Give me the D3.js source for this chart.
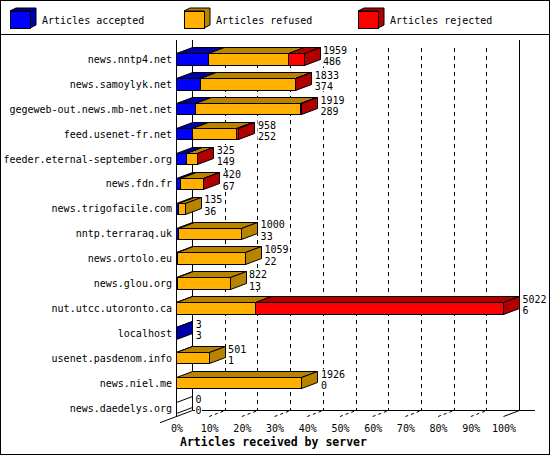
<!DOCTYPE html>
<html>
<head>
<meta charset="utf-8">
<script src="https://cdn.jsdelivr.net/npm/d3@7"></script>
<style>
body { margin: 0; background: #fff; }
</style>
</head>
<body>
<div id="chart"></div>
<script>
var servers = ["news.nntp4.net", "news.samoylyk.net", "gegeweb-out.news.mb-net.net",
    "feed.usenet-fr.net", "feeder.eternal-september.org", "news.fdn.fr",
    "news.trigofacile.com", "nntp.terraraq.uk", "news.ortolo.eu", "news.glou.org",
    "nut.utcc.utoronto.ca", "localhost", "usenet.pasdenom.info", "news.niel.me",
    "news.daedelys.org"];
var accepted = [486, 374, 289, 252, 149, 67, 36, 33, 22, 13, 6, 3, 1, 0, 0];
var refused  = [1231, 1451, 1610, 676, 171, 348, 99, 967, 1037, 809, 1210, 0, 500, 1926, 0];
var rejected = [242, 8, 20, 30, 5, 5, 0, 0, 0, 0, 3806, 0, 0, 0, 0];
var seriesNames = ["Articles accepted", "Articles refused", "Articles rejected"];
var xTicks = [0, 10, 20, 30, 40, 50, 60, 70, 80, 90, 100];
var xTitle = "Articles received by server";

function init(){

    var w = 550;
    var h = 455;
    var dx = 16, dy = 6;
    var fronts = ["#0000ff", "#ffb000", "#ff0000"];
    var darks = ["#0000a8", "#b88400", "#b00000"];
    var mono = "'DejaVu Sans Mono', monospace";
    var r = function(v){ return Math.round(v - 0.5) + 0.5; };

    var totals = servers.map(function(s, i){
        return accepted[i] + refused[i] + rejected[i];
    });
    var maxTotal = d3.max(totals);

    var xScale = d3.scaleLinear().domain([0, maxTotal]).range([176.5, 503.5]);
    var pScale = d3.scaleLinear().domain([0, 100]).range([176.5, 503.5]);
    var yScale = d3.scaleBand().domain(servers).range([47, 420.5])
        .paddingInner(0.54).paddingOuter(0.27);

    var floorY = 416.5;

    var svg = d3.select("#chart")
                .append("svg")
                .attr("width", w)
                .attr("height", h)
                .style("display", "block");

    svg.append("rect")
        .attr("x", 0.5).attr("y", 0.5)
        .attr("width", w - 1).attr("height", h - 1)
        .attr("fill", "#fff").attr("stroke", "#000");

    // legend
    var leg = svg.append("g");
    seriesNames.forEach(function(name, i){
        var lx = 10 + i * 174, ly = 11, bw = 20, bh = 17;
        leg.append("polygon")
            .attr("points", [[lx, ly], [lx + 6, ly - 3], [lx + bw + 6, ly - 3], [lx + bw + 6, ly + bh - 3], [lx + bw, ly + bh], [lx + bw, ly]].join(" "))
            .attr("fill", darks[i]).attr("stroke", "#000");
        leg.append("rect")
            .attr("x", lx + 0.5).attr("y", ly + 0.5)
            .attr("width", bw).attr("height", bh)
            .attr("fill", fronts[i]).attr("stroke", "#000");
        leg.append("text")
            .attr("x", lx + 32).attr("y", 20)
            .attr("dominant-baseline", "central")
            .attr("font-family", mono).attr("font-size", 10)
            .text(name);
    });
    svg.append("line")
        .attr("x1", 0).attr("x2", w)
        .attr("y1", 34.5).attr("y2", 34.5)
        .attr("stroke", "#000");

    // back wall
    var grid = svg.append("g").attr("stroke", "#000");
    grid.selectAll("line.dash")
        .data(xTicks.slice(1, -1))
        .enter()
        .append("line")
        .attr("x1", function(d){ return r(pScale(d) + dx); })
        .attr("x2", function(d){ return r(pScale(d) + dx); })
        .attr("y1", 48).attr("y2", floorY - dy)
        .attr("stroke-dasharray", "4,4");
    grid.selectAll("line.solid")
        .data([0, 100])
        .enter()
        .append("line")
        .attr("x1", function(d){ return r(pScale(d) + dx); })
        .attr("x2", function(d){ return r(pScale(d) + dx); })
        .attr("y1", 40).attr("y2", floorY - dy);
    grid.append("line")
        .attr("x1", r(pScale(0))).attr("x2", r(pScale(0)))
        .attr("y1", 40).attr("y2", floorY);
    // floor
    grid.append("line")
        .attr("x1", r(pScale(0) + dx)).attr("x2", 535)
        .attr("y1", floorY - dy).attr("y2", floorY - dy);
    grid.append("line")
        .attr("x1", 160).attr("y1", floorY - dy + (pScale(0) + dx - 160) * dy / dx)
        .attr("x2", pScale(0) + dx).attr("y2", floorY - dy);
    grid.append("line")
        .attr("x1", pScale(100)).attr("y1", floorY)
        .attr("x2", pScale(100) + dx).attr("y2", floorY - dy);
    grid.selectAll("line.tick")
        .data(xTicks.slice(1, -1))
        .enter()
        .append("line")
        .attr("x1", function(d){ return pScale(d); })
        .attr("x2", function(d){ return pScale(d) + dx; })
        .attr("y1", floorY).attr("y2", floorY - dy)
        .attr("stroke-dasharray", "3,3");

    // bars
    servers.forEach(function(s, i){
        var vals = [accepted[i], refused[i], rejected[i]];
        var y0 = r(yScale(s));
        var y1 = r(yScale(s) + yScale.bandwidth());
        var g = svg.append("g").attr("stroke", "#000");
        var cum = 0, last = -1;
        vals.forEach(function(v, j){
            if (v <= 0) return;
            var x0 = r(xScale(cum)), x1 = r(xScale(cum + v));
            g.append("polygon")
                .attr("points", [[x0, y0], [x0 + dx, y0 - dy], [x1 + dx, y0 - dy], [x1, y0]].join(" "))
                .attr("fill", darks[j]);
            g.append("rect")
                .attr("x", x0).attr("y", y0)
                .attr("width", x1 - x0).attr("height", y1 - y0)
                .attr("fill", fronts[j]);
            cum += v;
            last = j;
        });
        var xe = r(xScale(totals[i]));
        g.append("polygon")
            .attr("points", [[xe, y0], [xe + dx, y0 - dy], [xe + dx, y1 - dy], [xe, y1]].join(" "))
            .attr("fill", last < 0 ? "none" : darks[last]);

        var tx = xScale(totals[i]) + dx + 3;
        var cy = yScale(s) + yScale.bandwidth() / 2;
        var tw = Math.max(String(totals[i]).length, String(accepted[i]).length) * 6 + 1;
        svg.append("rect")
            .attr("x", tx - 0.5).attr("y", cy - 14)
            .attr("width", tw).attr("height", 21)
            .attr("fill", "#fff");
        svg.append("text")
            .attr("x", tx).attr("y", cy - 9)
            .attr("dominant-baseline", "central")
            .attr("font-family", mono).attr("font-size", 10)
            .text(totals[i]);
        svg.append("text")
            .attr("x", tx).attr("y", cy + 2.5)
            .attr("dominant-baseline", "central")
            .attr("font-family", mono).attr("font-size", 10)
            .text(accepted[i]);
    });

    // axes
    var yAxis = d3.axisLeft(yScale).tickSize(0).tickPadding(4);
    var gy = svg.append("g")
        .attr("transform", "translate(176,0)")
        .call(yAxis);
    gy.select(".domain").remove();
    gy.selectAll("text")
        .attr("font-family", mono).attr("font-size", 10)
        .attr("dy", null).attr("dominant-baseline", "central");

    var xAxis = d3.axisBottom(pScale).tickValues(xTicks)
        .tickFormat(function(d){ return d + "%"; })
        .tickSize(0);
    var gx = svg.append("g")
        .attr("transform", `translate(0,${floorY})`)
        .call(xAxis);
    gx.select(".domain").remove();
    gx.selectAll("text")
        .attr("font-family", mono).attr("font-size", 10)
        .attr("y", 11.5).attr("dy", null)
        .attr("dominant-baseline", "central");

    svg.append("text")
        .attr("x", 180).attr("y", 441.5)
        .attr("dominant-baseline", "central")
        .attr("font-family", mono).attr("font-size", 11.5)
        .attr("font-weight", "bold")
        .text(xTitle);
}
window.onload = init;
</script>
</body>
</html>
